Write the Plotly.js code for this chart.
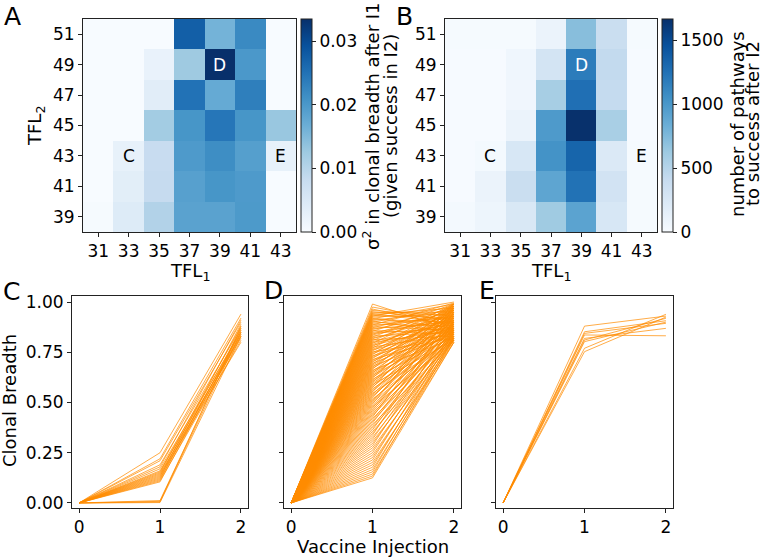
<!DOCTYPE html>
<html>
<head>
<meta charset="utf-8">
<script src="https://cdn.plot.ly/plotly-3.0.1.min.js"></script>
<style>html,body{margin:0;padding:0;background:#fff;}#chart{width:762px;height:558px;}</style>
</head>
<body>
<div id="chart"></div>
<script>
// ---------- DATA ----------
const tfl1 = [31, 33, 35, 37, 39, 41, 43];
const tfl2 = [39, 41, 43, 45, 47, 49, 51];
// rows follow tfl2 (39 -> 51), columns follow tfl1 (31 -> 43)
const varianceA = [
  [0.0003, 0.0043, 0.0105, 0.0185, 0.0185, 0.0198, 0.0],
  [0.0, 0.0035, 0.0084, 0.0188, 0.0204, 0.0197, 0.0],
  [0.0, 0.0027, 0.0080, 0.0197, 0.0214, 0.0190, 0.0027],
  [0.0, 0.0, 0.0120, 0.0204, 0.0245, 0.0204, 0.0130],
  [0.0, 0.0, 0.0037, 0.0250, 0.0174, 0.0233, 0.0],
  [0.0, 0.0, 0.0023, 0.0125, 0.0335, 0.0200, 0.0],
  [0.0, 0.0, 0.0, 0.0275, 0.0160, 0.0220, 0.0]
];
const pathwaysB = [
  [30, 80, 250, 615, 915, 265, 15],
  [10, 100, 380, 900, 1245, 315, 15],
  [10, 30, 265, 1030, 1330, 230, 15],
  [10, 10, 100, 980, 1660, 565, 10],
  [10, 10, 60, 580, 1260, 420, 10],
  [10, 10, 65, 300, 1180, 430, 10],
  [15, 15, 15, 100, 715, 380, 15]
];
const injections = [0, 1, 2];
// breadth after injection 1 and injection 2 (breadth at injection 0 is 0)
const breadthC = [
  [0.25,0.94],[0.22,0.92],[0.21,0.90],[0.19,0.87],[0.18,0.91],[0.17,0.85],[0.16,0.83],[0.155,0.88],
  [0.15,0.86],[0.145,0.82],[0.14,0.84],[0.135,0.80],[0.13,0.89],[0.125,0.85],[0.12,0.83],[0.115,0.86],
  [0.11,0.81],[0.105,0.84],[0.012,0.87],[0.008,0.85],[0.005,0.88],[0.002,0.83]
];
const breadthD = [
  [0.99,0.86],[0.975,0.90],[0.965,0.88],[0.958,0.93],[0.952,0.91],[0.947,0.95],[0.943,0.89],[0.938,0.97],[0.934,0.92],[0.930,1.00],
  [0.926,0.94],[0.921,0.87],[0.917,0.99],[0.913,0.90],[0.908,0.96],[0.904,0.85],[0.899,0.98],[0.895,0.92],[0.890,0.88],[0.886,0.995],
  [0.881,0.93],[0.877,0.86],[0.872,0.97],[0.868,0.90],[0.863,0.95],[0.858,0.84],[0.854,0.99],[0.849,0.91],[0.845,0.87],[0.840,0.96],
  [0.836,0.93],[0.831,0.85],[0.826,0.98],[0.822,0.89],[0.817,0.94],[0.813,0.83],[0.808,0.97],[0.803,0.90],[0.799,0.86],[0.794,0.99],
  [0.789,0.92],[0.785,0.88],[0.780,0.95],[0.776,0.84],[0.771,0.98],[0.766,0.91],[0.762,0.87],[0.757,0.96],[0.752,0.82],[0.748,0.93],
  [0.743,0.89],[0.738,0.99],[0.733,0.85],[0.729,0.94],[0.724,0.90],[0.719,0.97],[0.714,0.83],[0.710,0.92],[0.705,0.88],[0.700,0.96],
  [0.695,0.86],[0.690,0.98],[0.686,0.91],[0.681,0.84],[0.676,0.95],[0.671,0.89],[0.666,0.99],[0.661,0.82],[0.656,0.93],[0.651,0.87],
  [0.646,0.97],[0.641,0.90],[0.636,0.85],[0.631,0.94],[0.626,0.88],[0.621,0.98],[0.616,0.83],[0.611,0.92],[0.606,0.86],[0.600,0.96],
  [0.595,0.89],[0.590,0.81],[0.585,0.95],[0.579,0.87],[0.574,0.99],[0.568,0.84],[0.563,0.91],[0.557,0.88],[0.552,0.97],[0.546,0.82],
  [0.540,0.93],[0.535,0.86],[0.529,0.90],[0.523,0.96],[0.517,0.83],[0.511,0.89],[0.505,0.94],[0.499,0.85],[0.493,0.98],[0.487,0.87],
  [0.480,0.81],[0.474,0.92],[0.468,0.84],[0.461,0.95],[0.454,0.88],[0.448,0.82],[0.441,0.90],[0.434,0.86],[0.427,0.97],[0.420,0.83],
  [0.412,0.89],[0.405,0.85],[0.397,0.93],[0.389,0.81],[0.381,0.87],[0.373,0.84],[0.364,0.91],[0.355,0.82],[0.346,0.86],[0.337,0.95],
  [0.327,0.83],[0.317,0.88],[0.307,0.81],[0.296,0.85],[0.285,0.90],[0.274,0.82],[0.262,0.84],[0.250,0.87],[0.238,0.81],[0.226,0.83],
  [0.214,0.86],[0.202,0.80],[0.190,0.82],[0.178,0.85],[0.166,0.81],[0.155,0.83],[0.144,0.80],[0.134,0.82],[0.125,0.80]
];
const breadthE = [
  [0.880,0.930],[0.852,0.907],[0.844,0.894],[0.836,0.832],[0.819,0.869],
  [0.811,0.919],[0.803,0.900],[0.770,0.939],[0.753,0.925]
];
const cbTicksA = [0, 0.01, 0.02, 0.03];
const cbTextA = ['0.00', '0.01', '0.02', '0.03'];
const cbTicksB = [0, 500, 1000, 1500];
const cbTextB = ['0', '500', '1000', '1500'];

// ---------- STYLE ----------
const W = 762, H = 558;
const FONT = 'DejaVu Sans, Arial, sans-serif';
const TICK = 17, TITLE = 18, LETTER = 25;
const px = v => v / W;
const py = v => 1 - v / H;
const blues = [
  [0, '#f7fbff'], [0.125, '#deebf7'], [0.25, '#c6dbef'], [0.375, '#9ecae1'],
  [0.5, '#6baed6'], [0.625, '#4292c6'], [0.75, '#2171b5'], [0.875, '#08519c'], [1, '#08306b']
];
const ORANGE = '#ff8c00';

function cb(xLeft, vals, text) {
  return {
    x: px(xLeft), xanchor: 'left', xpad: 0,
    y: py(232), yanchor: 'bottom', ypad: 0,
    len: 213 / H, lenmode: 'fraction',
    thickness: 11, thicknessmode: 'pixels',
    outlinewidth: 1, outlinecolor: '#222',
    ticks: 'outside', ticklen: 4, tickwidth: 1, tickcolor: '#222',
    tickvals: vals, ticktext: text,
    tickfont: {size: TICK, color: '#000', family: FONT}
  };
}

const traces = [];
traces.push({
  type: 'heatmap', x: tfl1, y: tfl2, z: varianceA, xaxis: 'x', yaxis: 'y',
  colorscale: blues, zmin: 0, zmax: 0.0335, colorbar: cb(301, cbTicksA, cbTextA), hoverinfo: 'skip'
});
traces.push({
  type: 'heatmap', x: tfl1, y: tfl2, z: pathwaysB, xaxis: 'x2', yaxis: 'y2',
  colorscale: blues, zmin: 0, zmax: 1665, colorbar: cb(662, cbTicksB, cbTextB), hoverinfo: 'skip'
});
function addLines(set, xa, ya) {
  set.forEach(p => {
    traces.push({
      type: 'scatter', mode: 'lines', x: injections, y: [0, p[0], p[1]],
      xaxis: xa, yaxis: ya, line: {color: ORANGE, width: 0.8}, opacity: 0.9,
      showlegend: false, hoverinfo: 'skip'
    });
  });
}
addLines(breadthC, 'x3', 'y3');
addLines(breadthD, 'x4', 'y4');
addLines(breadthE, 'x5', 'y5');

const axBase = {
  showline: true, mirror: true, linecolor: '#222', linewidth: 1,
  ticks: 'outside', ticklen: 4, tickwidth: 1, tickcolor: '#222',
  showgrid: false, zeroline: false, fixedrange: true,
  tickfont: {size: TICK, color: '#000', family: FONT}
};
const hx = Object.assign({}, axBase, {range: [30, 44], tickvals: tfl1});
const hy = Object.assign({}, axBase, {range: [38, 52], tickvals: tfl2});
const lx = Object.assign({}, axBase, {range: [-0.087, 2.087], tickvals: [0, 1, 2]});
const ly = Object.assign({}, axBase, {range: [-0.025, 1.03], tickvals: [0, 0.25, 0.5, 0.75, 1.0],
  ticktext: ['0.00', '0.25', '0.50', '0.75', '1.00']});

const layout = {
  width: W, height: H,
  margin: {l: 0, r: 0, t: 0, b: 0},
  paper_bgcolor: '#fff', plot_bgcolor: '#fff',
  font: {family: FONT, size: TICK, color: '#000'},
  showlegend: false,
  xaxis: Object.assign({}, hx, {domain: [px(83), px(296)], anchor: 'y'}),
  yaxis: Object.assign({}, hy, {domain: [py(232), py(19)], anchor: 'x'}),
  xaxis2: Object.assign({}, hx, {domain: [px(445), px(657)], anchor: 'y2'}),
  yaxis2: Object.assign({}, hy, {domain: [py(232), py(19)], anchor: 'x2'}),
  xaxis3: Object.assign({}, lx, {domain: [px(72), px(248)], anchor: 'y3'}),
  yaxis3: Object.assign({}, ly, {domain: [py(508), py(296)], anchor: 'x3'}),
  xaxis4: Object.assign({}, lx, {domain: [px(284), px(461)], anchor: 'y4'}),
  yaxis4: Object.assign({}, ly, {domain: [py(508), py(296)], anchor: 'x4', showticklabels: false}),
  xaxis5: Object.assign({}, lx, {domain: [px(496), px(673)], anchor: 'y5'}),
  yaxis5: Object.assign({}, ly, {domain: [py(508), py(296)], anchor: 'x5', showticklabels: false}),
  annotations: []
};
const A = layout.annotations;
function ann(text, x, y, opts) {
  A.push(Object.assign({text: text, x: px(x), y: py(y), xref: 'paper', yref: 'paper',
    showarrow: false, xanchor: 'center', yanchor: 'middle',
    font: {size: TITLE, color: '#000', family: FONT}}, opts || {}));
}
const big = {font: {size: LETTER, color: '#000', family: FONT}};
// panel letters
ann('A', 12, 16, big);
ann('B', 404, 16, big);
ann('C', 11, 291, big);
ann('D', 273, 290, big);
ann('E', 487, 290, big);
// axis titles
ann('TFL<sub>1</sub>', 189.5, 272);
ann('TFL<sub>1</sub>', 551, 272);
ann('TFL<sub>2</sub>', 36, 126, {textangle: -90});
ann('σ<sup>2</sup> in clonal breadth after I1', 371, 126, {textangle: -90});
ann('(given success in I2)', 390, 126, {textangle: -90});
ann('number of pathways', 737, 124, {textangle: -90});
ann('to success after I2', 752, 124, {textangle: -90});
ann('Clonal Breadth', 9, 401, {textangle: -90});
ann('Vaccine Injection', 373, 546);
// labels inside heatmaps
[['x', 'y'], ['x2', 'y2']].forEach(r => {
  A.push({text: 'C', x: 33, y: 43, xref: r[0], yref: r[1], showarrow: false, font: {size: TICK, color: '#000', family: FONT}});
  A.push({text: 'D', x: 39, y: 49, xref: r[0], yref: r[1], showarrow: false, font: {size: TICK, color: '#fff', family: FONT}});
  A.push({text: 'E', x: 43, y: 43, xref: r[0], yref: r[1], showarrow: false, font: {size: TICK, color: '#000', family: FONT}});
});

Plotly.newPlot('chart', traces, layout, {staticPlot: true, displayModeBar: false});
</script>
</body>
</html>
